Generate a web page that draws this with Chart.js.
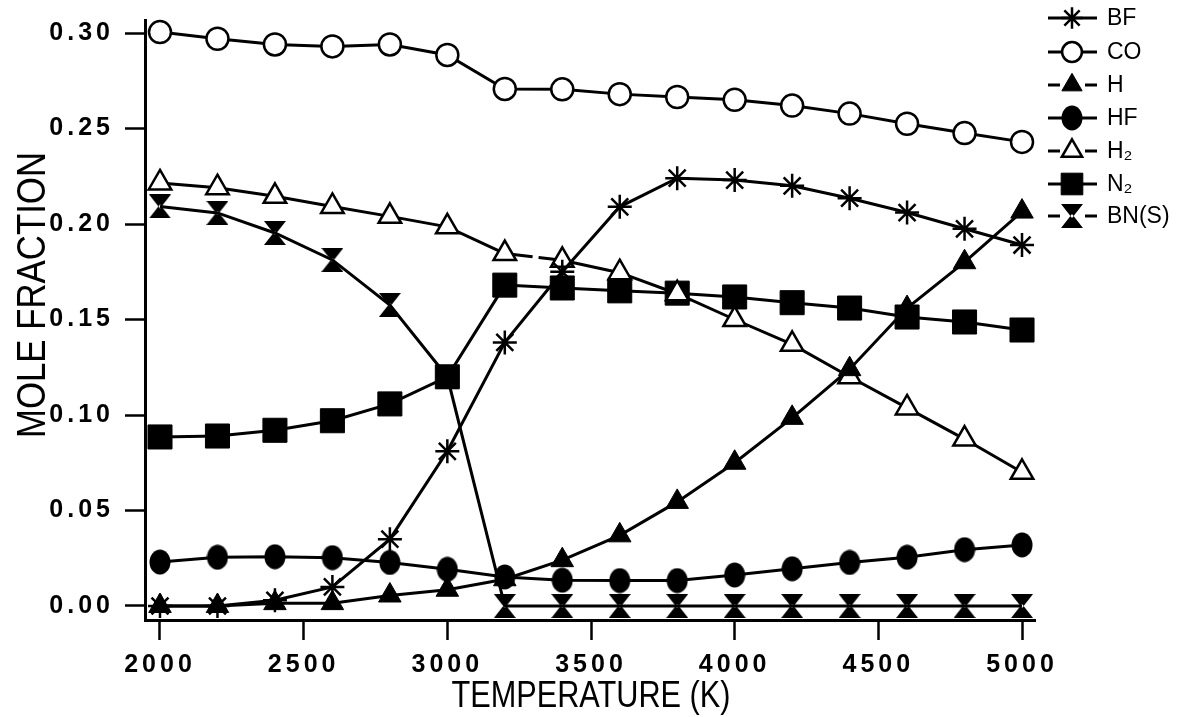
<!DOCTYPE html>
<html>
<head>
<meta charset="utf-8">
<title>Mole fraction vs temperature</title>
<script src="https://cdn.jsdelivr.net/npm/chart.js@4/dist/chart.umd.min.js"></script>
<style>
  html, body { margin: 0; padding: 0; background: #ffffff; }
  #wrap { width: 1196px; height: 717px; }
</style>
</head>
<body>
<div id="wrap"><canvas id="chart" width="1196" height="717"></canvas></div>
<script>
// Equilibrium composition, sampled every 200 K
const temperatures = [2000, 2200, 2400, 2600, 2800, 3000, 3200, 3400, 3600, 3800, 4000, 4200, 4400, 4600, 4800, 5000];
const xTickValues = [2000, 2500, 3000, 3500, 4000, 4500, 5000];
const yTickValues = [0.00, 0.05, 0.10, 0.15, 0.20, 0.25, 0.30];

const bfFraction  = [0.000, 0.000, 0.003, 0.010, 0.035, 0.081, 0.138, 0.175, 0.209, 0.224, 0.223, 0.220, 0.2135, 0.206, 0.1975, 0.189];
const coFraction  = [0.3005, 0.297, 0.294, 0.293, 0.294, 0.2885, 0.2707, 0.2705, 0.268, 0.2665, 0.265, 0.262, 0.2578, 0.2525, 0.2476, 0.243];
const hFraction   = [0.000, 0.000, 0.0015, 0.0015, 0.0055, 0.0085, 0.014, 0.024, 0.037, 0.0545, 0.075, 0.0985, 0.124, 0.156, 0.180, 0.2065];
const hfFraction  = [0.023, 0.0255, 0.0258, 0.0253, 0.0228, 0.0192, 0.0152, 0.0135, 0.0133, 0.0133, 0.0162, 0.0195, 0.0228, 0.0255, 0.0295, 0.032];
const h2Fraction  = [0.2215, 0.219, 0.2145, 0.2092, 0.204, 0.1985, 0.1845, 0.181, 0.1745, 0.1635, 0.150, 0.137, 0.120, 0.1037, 0.0874, 0.070];
const n2Fraction  = [0.0885, 0.089, 0.092, 0.097, 0.1058, 0.120, 0.168, 0.1665, 0.165, 0.1638, 0.1618, 0.1588, 0.156, 0.1513, 0.1487, 0.1445];
const bnsFraction = [0.2092, 0.2058, 0.1953, 0.1812, 0.1576, 0.120, 0.000, 0.000, 0.000, 0.000, 0.000, 0.000, 0.000, 0.000, 0.000, 0.000];

const seriesLabels = ['BF', 'CO', 'H', 'HF', 'H\u2082', 'N\u2082', 'BN(S)'];
const xAxisTitle = 'TEMPERATURE (K)';
const yAxisTitle = 'MOLE FRACTION';

const TICK_FONT = '"Liberation Sans", Arial, Helvetica, sans-serif';
const TICK_TRACKING = '4px';

// Marker images for the shapes Chart.js has no built-in style for
function hourglassMarker(w, h) {
  const c = document.createElement('canvas');
  c.width = w; c.height = h;
  const g = c.getContext('2d');
  g.fillStyle = '#000';
  g.beginPath();
  g.moveTo(0, 0); g.lineTo(w, 0); g.lineTo(w / 2, h / 2 + 2); g.closePath();
  g.moveTo(0, h); g.lineTo(w, h); g.lineTo(w / 2, h / 2 - 2); g.closePath();
  g.fill();
  return c;
}
function ellipseMarker(w, h) {
  const c = document.createElement('canvas');
  c.width = w; c.height = h;
  const g = c.getContext('2d');
  g.fillStyle = '#000';
  g.beginPath();
  g.ellipse(w / 2, h / 2, w / 2 - 0.5, h / 2 - 0.5, 0, 0, Math.PI * 2);
  g.fill();
  return c;
}
const hourglass = hourglassMarker(22, 24);
const blackEllipse = ellipseMarker(22, 26);

function pairs(values) {
  return temperatures.map((t, i) => ({ x: t, y: values[i] }));
}

function series(label, values, style) {
  return Object.assign({
    label: label,
    data: pairs(values),
    borderColor: '#000',
    borderWidth: 3,
    pointBorderColor: '#000',
    pointBackgroundColor: '#000',
    pointBorderWidth: 2.5,
    tension: 0,
    fill: false,
    clip: false
  }, style);
}

const datasets = [
  series(seriesLabels[0], bfFraction,  { pointStyle: 'star', pointRadius: 12, legendGap: false }),
  series(seriesLabels[1], coFraction,  { pointStyle: 'circle', pointRadius: 11, pointBackgroundColor: '#fff', legendGap: false }),
  series(seriesLabels[2], hFraction,   { pointStyle: 'triangle', pointRadius: 13, pointBorderWidth: 1, legendGap: true }),
  series(seriesLabels[3], hfFraction,  { pointStyle: blackEllipse, pointRadius: 12, legendGap: false }),
  series(seriesLabels[4], h2Fraction,  {
    pointStyle: 'triangle', pointRadius: 13, pointBackgroundColor: '#fff', legendGap: true,
    segment: { borderDash: ctx => (ctx.p0DataIndex === 6 ? [28, 6] : undefined) }
  }),
  series(seriesLabels[5], n2Fraction,  { pointStyle: 'rect', pointRadius: 17, pointBorderWidth: 1, legendGap: false }),
  series(seriesLabels[6], bnsFraction, { pointStyle: hourglass, pointRadius: 12, legendGap: true })
];

// Tick labels are set with extra letter spacing
const baseDrawLabels = Chart.Scale.prototype.drawLabels;
Chart.Scale.prototype.drawLabels = function (area) {
  const ctx = this.ctx;
  ctx.save();
  ctx.letterSpacing = TICK_TRACKING;
  baseDrawLabels.call(this, area);
  ctx.restore();
};

// Narrow axis titles: text is squeezed horizontally to a set run length
function drawFittedText(ctx, text, x, y, runLength, font, vertical) {
  ctx.save();
  ctx.font = font;
  const natural = ctx.measureText(text).width;
  ctx.translate(x, y);
  if (vertical) ctx.rotate(-Math.PI / 2);
  ctx.scale(runLength / natural, 1);
  ctx.fillStyle = '#000';
  ctx.textAlign = 'center';
  ctx.textBaseline = 'alphabetic';
  ctx.fillText(text, 0, 0);
  ctx.restore();
}

const axisTitles = {
  id: 'axisTitles',
  afterDraw(chart) {
    const ctx = chart.ctx;
    drawFittedText(ctx, xAxisTitle, 591, 707, 279, '36px "Liberation Sans", Arial, sans-serif', false);
    drawFittedText(ctx, yAxisTitle, 45, 295, 286, '40px "Liberation Sans", Arial, sans-serif', true);
  }
};

// Key on the right: line + marker sample, then the species name
const sideKey = {
  id: 'sideKey',
  afterDraw(chart) {
    const ctx = chart.ctx;
    const x0 = 1048, x1 = 1097, xm = 1072, xText = 1107;
    const rows = [18, 52, 85, 118, 151, 184, 216];
    chart.data.datasets.forEach((ds, i) => {
      const y = rows[i];
      ctx.save();
      ctx.strokeStyle = '#000';
      ctx.lineWidth = 3;
      ctx.beginPath();
      if (ds.legendGap) {
        ctx.moveTo(x0, y); ctx.lineTo(x0 + 12, y);
        ctx.moveTo(x1 - 12, y); ctx.lineTo(x1, y);
      } else {
        ctx.moveTo(x0, y); ctx.lineTo(x1, y);
      }
      ctx.stroke();
      ctx.fillStyle = ds.pointBackgroundColor;
      ctx.strokeStyle = ds.pointBorderColor;
      ctx.lineWidth = ds.pointBorderWidth;
      Chart.helpers.drawPoint(ctx, {
        pointStyle: ds.pointStyle,
        radius: ds.pointRadius * 0.9,
        borderWidth: ds.pointBorderWidth,
        rotation: 0
      }, xm, y);
      ctx.fillStyle = '#000';
      ctx.font = '23px ' + TICK_FONT;
      ctx.textBaseline = 'middle';
      ctx.textAlign = 'left';
      ctx.fillText(ds.label, xText, y + 1);
      ctx.restore();
    });
  }
};

const axisGrid = {
  drawOnChartArea: false,
  drawTicks: true,
  tickLength: 20,
  tickWidth: 2.5,
  tickColor: '#000',
  color: '#000'
};

new Chart(document.getElementById('chart'), {
  type: 'line',
  data: { datasets: datasets },
  options: {
    responsive: false,
    animation: false,
    devicePixelRatio: 1,
    layout: { padding: { left: 0, right: 161, top: 20, bottom: 0 } },
    plugins: {
      legend: { display: false },
      tooltip: { enabled: false }
    },
    scales: {
      x: {
        type: 'linear',
        min: 1947.8,
        max: 5045.2,
        afterBuildTicks: s => { s.ticks = xTickValues.map(v => ({ value: v })); },
        afterFit: s => { s.height = 97; s.paddingLeft = 0; s.paddingRight = 0; },
        grid: axisGrid,
        border: { display: true, color: '#000', width: 3 },
        ticks: {
          color: '#000',
          font: { family: TICK_FONT, size: 25, weight: 'bold' },
          padding: 10,
          maxRotation: 0,
          autoSkip: false,
          callback: v => String(v)
        },
        title: { display: false }
      },
      y: {
        type: 'linear',
        min: -0.00733,
        max: 0.30681,
        afterBuildTicks: s => { s.ticks = yTickValues.map(v => ({ value: v })); },
        afterFit: s => { s.width = 145; s.paddingTop = 0; s.paddingBottom = 0; },
        grid: axisGrid,
        border: { display: true, color: '#000', width: 3 },
        ticks: {
          color: '#000',
          font: { family: TICK_FONT, size: 25, weight: 'bold' },
          padding: 11,
          autoSkip: false,
          callback: v => v.toFixed(2)
        },
        title: { display: false }
      }
    }
  },
  plugins: [axisTitles, sideKey]
});
</script>
</body>
</html>
